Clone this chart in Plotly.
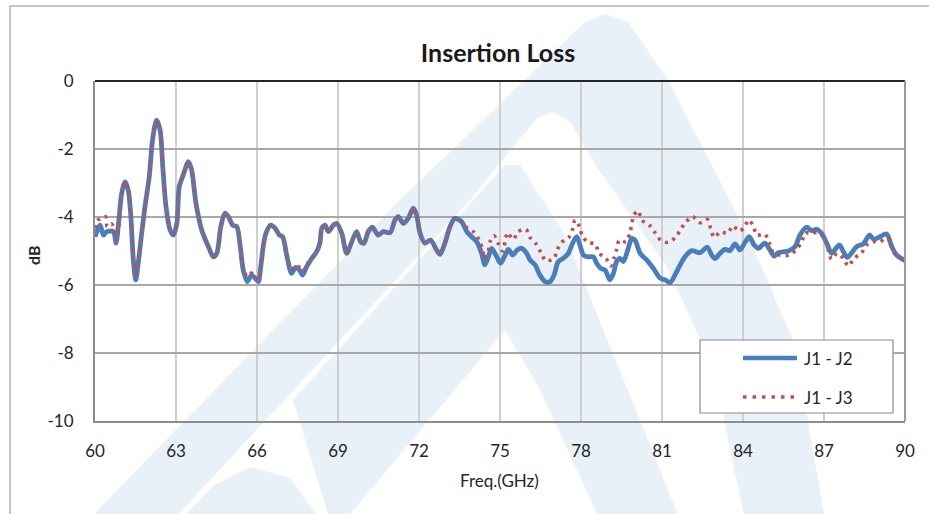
import plotly.graph_objects as go

# ---------------- data ----------------
freq_j12 = [60.00, 60.19, 60.31, 60.43, 60.68, 60.78, 60.86, 60.99, 61.11, 61.23, 61.32, 61.42, 61.51, 61.60,
            61.73, 61.85, 62.01, 62.13, 62.28, 62.41, 62.51, 62.63, 62.78, 62.90, 63.03, 63.12, 63.27, 63.46,
            63.58, 63.74, 63.95, 64.20, 64.38, 64.51, 64.66, 64.81, 64.94, 65.10, 65.25, 65.37, 65.49, 65.64,
            65.80, 65.93, 66.05, 66.14, 66.23, 66.33, 66.51, 66.67, 66.83, 66.95, 67.10, 67.28, 67.43, 67.57,
            67.69, 67.84, 68.03, 68.21, 68.33, 68.40, 68.52, 68.64, 68.83, 68.95, 69.14, 69.32, 69.51, 69.69,
            69.84, 69.96, 70.12, 70.27, 70.49, 70.68, 70.93, 71.11, 71.23, 71.42, 71.60, 71.79, 71.91, 72.04,
            72.22, 72.43, 72.65, 72.78, 72.96, 73.15, 73.33, 73.58, 73.77, 73.95, 74.14, 74.32, 74.44, 74.57,
            74.69, 74.88, 75.02, 75.19, 75.31, 75.47, 75.64, 75.80, 75.99, 76.11, 76.30, 76.48, 76.67, 76.85,
            77.00, 77.16, 77.34, 77.53, 77.69, 77.84, 77.96, 78.09, 78.27, 78.46, 78.58, 78.73, 78.89, 79.07,
            79.20, 79.32, 79.44, 79.57, 79.75, 79.88, 80.00, 80.19, 80.43, 80.68, 80.93, 81.11, 81.30, 81.48,
            81.67, 81.85, 82.10, 82.41, 82.68, 82.84, 82.96, 83.15, 83.33, 83.52, 83.70, 83.89, 84.07, 84.23,
            84.41, 84.57, 84.81, 85.00, 85.15, 85.31, 85.68, 85.93, 86.11, 86.36, 86.54, 86.73, 86.91, 87.10,
            87.28, 87.41, 87.57, 87.72, 87.86, 88.03, 88.21, 88.46, 88.68, 88.85, 89.07, 89.32, 89.51, 89.69,
            90.00]
loss_j12 = [-4.58, -4.24, -4.53, -4.43, -4.43, -4.77, -4.28, -3.30, -2.96, -3.21, -3.89, -5.26, -5.85, -5.36,
            -4.48, -3.70, -2.81, -1.74, -1.15, -1.44, -2.52, -3.70, -4.38, -4.53, -4.19, -3.11, -2.76, -2.37,
            -2.62, -3.60, -4.38, -4.87, -5.17, -5.07, -4.28, -3.89, -3.99, -4.24, -4.28, -4.80, -5.56, -5.90,
            -5.71, -5.80, -5.90, -5.46, -4.87, -4.48, -4.24, -4.33, -4.53, -4.58, -5.12, -5.66, -5.48, -5.56,
            -5.71, -5.46, -5.22, -5.02, -4.77, -4.33, -4.24, -4.43, -4.24, -4.19, -4.48, -5.07, -4.73, -4.43,
            -4.73, -4.77, -4.43, -4.30, -4.53, -4.43, -4.46, -4.09, -3.99, -4.19, -4.04, -3.74, -3.94, -4.48,
            -4.77, -4.68, -4.97, -5.10, -4.77, -4.28, -4.04, -4.14, -4.43, -4.58, -4.73, -5.07, -5.41, -5.17,
            -4.92, -5.17, -5.36, -5.12, -4.95, -5.12, -4.97, -4.92, -5.07, -5.26, -5.41, -5.71, -5.90, -5.90,
            -5.71, -5.31, -5.22, -5.07, -4.77, -4.58, -4.82, -5.12, -5.17, -5.17, -5.36, -5.51, -5.56, -5.85,
            -5.66, -5.31, -5.22, -5.31, -4.92, -4.63, -4.68, -5.07, -5.26, -5.51, -5.80, -5.85, -5.93, -5.71,
            -5.41, -5.17, -4.99, -5.05, -4.89, -5.12, -5.22, -5.07, -4.95, -4.99, -4.79, -4.97, -4.75, -4.58,
            -4.82, -4.92, -4.77, -4.97, -5.15, -5.05, -5.00, -4.87, -4.53, -4.30, -4.40, -4.36, -4.48, -4.77,
            -5.07, -4.95, -4.82, -5.02, -5.19, -5.05, -4.87, -4.79, -4.53, -4.66, -4.58, -4.50, -4.87, -5.12,
            -5.28]

freq_j13 = [60.00, 60.10, 60.24, 60.39, 60.45, 60.61, 60.72, 60.80, 60.88, 60.99, 61.11, 61.23, 61.32, 61.42,
            61.51, 61.60, 61.73, 61.85, 62.01, 62.13, 62.28, 62.41, 62.51, 62.63, 62.78, 62.90, 63.03, 63.12,
            63.27, 63.46, 63.58, 63.74, 63.95, 64.20, 64.38, 64.51, 64.66, 64.81, 64.94, 65.10, 65.25, 65.37,
            65.49, 65.64, 65.80, 65.93, 66.05, 66.14, 66.23, 66.33, 66.51, 66.67, 66.83, 66.95, 67.10, 67.28,
            67.43, 67.57, 67.69, 67.84, 68.03, 68.21, 68.33, 68.40, 68.52, 68.64, 68.83, 68.95, 69.14, 69.32,
            69.51, 69.69, 69.84, 69.96, 70.12, 70.27, 70.49, 70.68, 70.93, 71.11, 71.23, 71.42, 71.60, 71.79,
            71.91, 72.04, 72.22, 72.43, 72.65, 72.78, 72.96, 73.15, 73.33, 73.58, 73.79, 74.04, 74.23, 74.35,
            74.42, 74.57, 74.63, 74.78, 74.94, 75.10, 75.19, 75.28, 75.49, 75.68, 75.96, 76.11, 76.33, 76.52,
            76.70, 77.00, 77.12, 77.28, 77.57, 77.69, 77.78, 77.94, 78.05, 78.27, 78.52, 78.68, 78.93, 79.10,
            79.22, 79.32, 79.42, 79.67, 79.81, 79.88, 79.96, 80.12, 80.25, 80.53, 80.74, 80.95, 81.23, 81.52,
            81.69, 81.89, 82.14, 82.41, 82.68, 82.80, 82.93, 83.17, 83.42, 83.64, 83.83, 84.04, 84.20, 84.38,
            84.51, 84.81, 84.97, 85.10, 85.35, 85.72, 85.96, 86.17, 86.30, 86.54, 86.85, 87.07, 87.16, 87.28,
            87.49, 87.72, 87.90, 88.11, 88.40, 88.58, 88.80, 89.07, 89.35, 89.51, 89.63, 89.94, 90.00]
loss_j13 = [-4.33, -4.10, -4.04, -3.99, -4.28, -4.20, -4.35, -4.68, -4.30, -3.30, -2.96, -3.21, -3.89, -5.20,
            -5.75, -5.30, -4.48, -3.70, -2.81, -1.74, -1.15, -1.44, -2.52, -3.70, -4.38, -4.53, -4.19, -3.11,
            -2.76, -2.37, -2.62, -3.60, -4.38, -4.87, -5.17, -5.07, -4.28, -3.89, -3.99, -4.24, -4.28, -4.80,
            -5.50, -5.75, -5.65, -5.75, -5.85, -5.46, -4.87, -4.48, -4.24, -4.33, -4.53, -4.58, -5.12, -5.55,
            -5.42, -5.48, -5.60, -5.40, -5.20, -5.02, -4.77, -4.33, -4.24, -4.43, -4.24, -4.19, -4.48, -5.07,
            -4.73, -4.43, -4.73, -4.77, -4.43, -4.30, -4.53, -4.43, -4.46, -4.09, -3.99, -4.19, -4.04, -3.74,
            -3.94, -4.48, -4.77, -4.68, -4.97, -5.10, -4.77, -4.28, -4.04, -4.14, -4.33, -4.45, -4.68, -4.95,
            -5.22, -5.00, -4.73, -4.55, -4.79, -5.00, -4.73, -4.46, -4.66, -4.43, -4.36, -4.60, -4.79, -5.05,
            -5.29, -5.22, -4.97, -4.75, -4.58, -4.36, -4.09, -4.28, -4.56, -4.75, -4.79, -5.07, -5.22, -5.44,
            -5.22, -4.95, -4.68, -4.73, -4.48, -4.20, -3.94, -3.82, -4.09, -4.24, -4.46, -4.68, -4.75, -4.58,
            -4.36, -4.14, -3.99, -4.17, -4.07, -4.33, -4.60, -4.43, -4.48, -4.26, -4.41, -4.33, -4.09, -4.26,
            -4.53, -4.51, -4.75, -5.02, -5.12, -5.12, -4.97, -4.75, -4.48, -4.46, -4.48, -4.73, -4.99, -5.24,
            -5.07, -5.22, -5.44, -5.22, -5.05, -4.82, -4.73, -4.73, -4.60, -4.87, -5.09, -5.24, -5.28]

series_names = ["J1 - J2", "J1 - J3"]
x_ticks = [60, 63, 66, 69, 72, 75, 78, 81, 84, 87, 90]
y_ticks = [0, -2, -4, -6, -8, -10]

# ---------------- geometry helpers ----------------
W, H = 929, 514
L, R, T, B = 95, 905, 81, 421


def px(x, y):
    return (x - L) / (R - L), (B - y) / (B - T)


def path_of(points):
    pts = [px(x, y) for x, y in points]
    return "M " + " L ".join(f"{a:.4f},{b:.4f}" for a, b in pts) + " Z"


FONT = "Lato"
BLUE = "#4a7ebb"
RED = "#c0504d"
WM = "#e8f0f8"

fig = go.Figure()
fig.add_trace(go.Scatter(x=freq_j12, y=loss_j12, mode="lines", name=series_names[0],
                         line=dict(color=BLUE, width=4.8, shape="spline", smoothing=0.8),
                         showlegend=False))
fig.add_trace(go.Scatter(x=freq_j13, y=loss_j13, mode="lines", name=series_names[1],
                         line=dict(color=RED, width=3.6, dash="3px,5px", shape="spline", smoothing=0.8),
                         showlegend=False))

shapes = []
# watermark (light logo behind the chart)
wm_polys = [
    [(88, 520), (400, 200), (585, 22), (605, 14), (628, 22), (668, 80), (750, 240), (795, 345), (825, 520),
     (745, 520), (713, 367), (667, 267), (597, 167), (570, 122), (553, 112), (537, 118), (470, 200), (173, 520)],
    [(293, 400), (505, 165), (520, 165), (565, 235), (640, 420), (680, 520), (600, 520), (540, 390),
     (505, 330), (345, 520), (330, 520)],
    [(180, 520), (215, 485), (250, 467), (290, 478), (320, 520)],
]
for poly in wm_polys:
    shapes.append(dict(type="path", xref="paper", yref="paper", path=path_of(poly),
                       fillcolor=WM, line=dict(width=0), layer="below"))

# chart outer border
x0, y0 = px(10, 6)
x1, y1 = px(940, 525)
shapes.append(dict(type="rect", xref="paper", yref="paper", x0=x0, y0=y1, x1=x1, y1=y0,
                   line=dict(color="#b4b4b4", width=1.5), fillcolor="rgba(0,0,0,0)", layer="below"))

# right border of plot area
shapes.append(dict(type="line", xref="paper", yref="paper", x0=1, x1=1, y0=0, y1=1,
                   line=dict(color="#9a9a9a", width=2), layer="above"))

# legend box
lx0, ly0 = px(700, 340)
lx1, ly1 = px(893, 413)
shapes.append(dict(type="rect", xref="paper", yref="paper", x0=lx0, y0=ly1, x1=lx1, y1=ly0,
                   line=dict(color="#8c8c8c", width=1.2), fillcolor="white", layer="above"))
# legend samples
sx0, sy1 = px(743, 358)
sx1, _ = px(797, 358)
_, sy2 = px(743, 397)
shapes.append(dict(type="line", xref="paper", yref="paper", x0=sx0, x1=sx1, y0=sy1, y1=sy1,
                   line=dict(color=BLUE, width=4.5), layer="above"))
shapes.append(dict(type="line", xref="paper", yref="paper", x0=sx0, x1=sx1, y0=sy2, y1=sy2,
                   line=dict(color=RED, width=3.5, dash="3.5px,6px"), layer="above"))

annotations = []
tx, _ = px(802, 0)
annotations.append(dict(xref="paper", yref="paper", x=tx, y=sy1, text=series_names[0], showarrow=False,
                        xanchor="left", yanchor="middle", font=dict(family=FONT, size=17, color="#262626")))
annotations.append(dict(xref="paper", yref="paper", x=tx, y=sy2, text=series_names[1], showarrow=False,
                        xanchor="left", yanchor="middle", font=dict(family=FONT, size=17, color="#262626")))
# axis titles
ax, ay = px(33, 255)
annotations.append(dict(xref="paper", yref="paper", x=ax, y=ay, text="<b>dB</b>", showarrow=False,
                        textangle=-90, xanchor="center", yanchor="middle",
                        font=dict(family=FONT, size=16, color="#262626")))
fx, fy = px(499, 480)
annotations.append(dict(xref="paper", yref="paper", x=fx, y=fy, text="Freq.(GHz)", showarrow=False,
                        xanchor="center", yanchor="middle", font=dict(family=FONT, size=17, color="#262626")))

fig.update_layout(
    width=W, height=H,
    margin=dict(l=L, r=W - R, t=T, b=H - B),
    paper_bgcolor="white", plot_bgcolor="rgba(0,0,0,0)",
    title=dict(text="<b>Insertion Loss</b>", x=498 / W, xref="container", xanchor="center",
               y=1 - 53 / H, yref="container", yanchor="middle",
               font=dict(family=FONT, size=25, color="#1a1a1a")),
    shapes=shapes, annotations=annotations, showlegend=False,
    xaxis=dict(range=[60, 90], tickvals=x_ticks, ticktext=[str(v) for v in x_ticks],
               showgrid=True, gridcolor="#cfcfcf", gridwidth=2,
               showline=True, linecolor="#8c8c8c", linewidth=2, zeroline=False,
               ticks="", ticklabelstandoff=14,
               tickfont=dict(family=FONT, size=17, color="#262626")),
    yaxis=dict(range=[-10, 0], tickvals=y_ticks, ticktext=[str(v) for v in y_ticks],
               showgrid=True, gridcolor="#a8a8a8", gridwidth=2,
               showline=True, linecolor="#8c8c8c", linewidth=2,
               zeroline=True, zerolinecolor="#262626", zerolinewidth=2,
               ticks="", ticklabelstandoff=16,
               tickfont=dict(family=FONT, size=17, color="#262626")),
)

fig.write_html("out.html", config={"displayModeBar": False},
               post_script="document.body.style.margin='0';")
